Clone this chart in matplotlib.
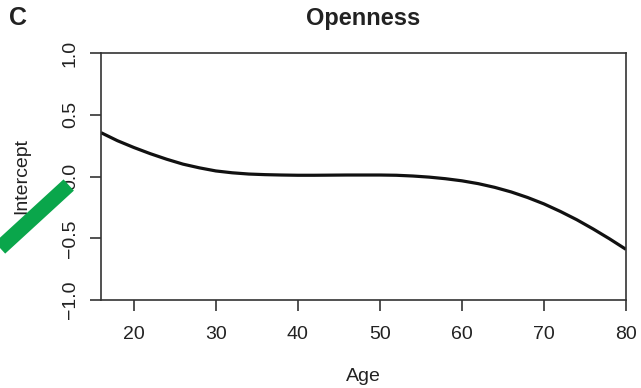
import matplotlib
matplotlib.use("Agg")
import matplotlib.pyplot as plt
from matplotlib.lines import Line2D

plt.rcParams['font.family'] = ['Liberation Sans', 'DejaVu Sans']

# Data
age = [16, 18, 20, 22, 24, 26, 28, 30, 32, 34, 36, 38, 40, 42, 44, 46, 48, 50,
       52, 54, 56, 58, 60, 62, 64, 66, 68, 70, 72, 74, 76, 78, 80]
intercept = [0.355, 0.29, 0.235, 0.185, 0.14, 0.10, 0.07, 0.045, 0.03, 0.02,
             0.015, 0.012, 0.01, 0.01, 0.011, 0.012, 0.012, 0.012,
             0.01, 0.004, -0.005, -0.018, -0.035, -0.058, -0.088, -0.125, -0.17,
             -0.222, -0.283, -0.35, -0.425, -0.505, -0.59]
xticks = [20, 30, 40, 50, 60, 70, 80]
yticks = [-1.0, -0.5, 0.0, 0.5, 1.0]
ytick_labels = ["\u22121.0", "\u22120.5", "0.0", "0.5", "1.0"]

W, H = 641, 388
fig = plt.figure(figsize=(W / 100, H / 100), dpi=100)
ax = fig.add_axes([101 / W, 1 - 300 / H, (626 - 101) / W, (300 - 53) / H])

ax.plot(age, intercept, color='#111111', lw=2.3, solid_capstyle='butt',
        solid_joinstyle='round')
ax.set_xlim(16, 80)
ax.set_ylim(-1, 1)
ax.set_xticks(xticks)
ax.set_xticklabels([str(t) for t in xticks])
ax.set_yticks(yticks)
ax.set_yticklabels(ytick_labels, rotation=90, va='center')

edge = '#333333'
for s in ax.spines.values():
    s.set_color(edge)
    s.set_linewidth(1.2)
ax.tick_params(axis='both', direction='out', length=8, width=1.2, color=edge,
               labelsize=14, labelcolor='#222222')
ax.tick_params(axis='x', pad=11)
ax.tick_params(axis='y', pad=8)

ax.set_xlabel("Age", fontsize=14, color='#222222', labelpad=18)
ax.set_ylabel("Intercept", fontsize=14, color='#222222', labelpad=23)
ax.set_title("Openness", fontsize=17, fontweight='bold', color='#222222', pad=20)
fig.text(18 / W, 1 - 18 / H, "C", fontsize=18, fontweight='bold',
         color='#222222', ha='center', va='center')

# green pointer overlay present in the reference image
fig.add_artist(Line2D([0 / W, 68.7 / W], [1 - 248 / H, 1 - 185 / H],
                      transform=fig.transFigure, color='#0aa64b', lw=11,
                      solid_capstyle='butt', zorder=10))

fig.savefig("out.png", dpi=100)
